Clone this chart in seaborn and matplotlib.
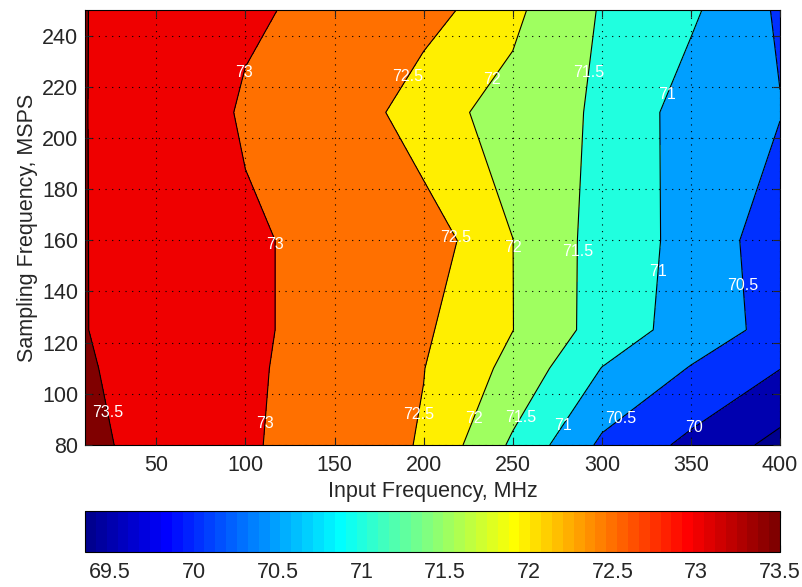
#!/usr/bin/env python3
import matplotlib
matplotlib.use('Agg')
import matplotlib.pyplot as plt
from matplotlib.cm import ScalarMappable
from matplotlib.colors import ListedColormap, Normalize
import numpy as np
import seaborn as sns


# grid of the measurement
INPUT_FREQ = [10, 100, 150, 200, 250, 300, 350, 400]      # MHz
SAMPLING_FREQ = [80, 110, 125, 160, 210, 250]             # MSPS

# SNR per sampling-frequency row, one value per input frequency
SNR_80 = [73.60, 73.05, 72.80, 72.46, 71.42, 70.41, 69.88, 69.35]
SNR_110 = [73.54, 73.07, 72.81, 72.51, 71.86, 70.99, 70.475, 70.01]
SNR_125 = [73.51, 73.08, 72.84, 72.57, 72.006, 71.30, 70.78, 70.33]
SNR_160 = [73.51, 73.05, 72.90, 72.80, 72.003, 71.31, 70.84, 70.22]
SNR_210 = [73.51, 72.96, 72.96, 72.16, 71.85, 71.41, 70.78, 70.52]
SNR_250 = [73.51, 73.05, 72.91, 72.73, 72.10, 71.46, 71.08, 70.43]

LEVELS = [69.5, 70, 70.5, 71, 71.5, 72, 72.5, 73, 73.5]
CLIM = (69.35, 73.5)
CBAR_TICKS = [69.5, 70, 70.5, 71, 71.5, 72, 72.5, 73, 73.5]
CBAR_LABELS = ['69.5', '70', '70.5', '71', '71.5', '72', '72.5', '73', '73.5']
X_TICKS = [50, 100, 150, 200, 250, 300, 350, 400]
Y_TICKS = [80, 100, 120, 140, 160, 180, 200, 220, 240]

# where the inline level labels sit (x MHz, y MSPS)
LABEL_POS = [(99.4, 225.7), (191.8, 223.6), (236.8, 223.6), (292.5, 225.7),
             (336.8, 216.9),
             (116.9, 158.4), (216.2, 160.4), (249.6, 157.1), (286.5, 155.8),
             (331.1, 147.8), (378.4, 142.2),
             (22.2, 92.8), (109.9, 88.5), (194.3, 92.4), (233.1, 88.9),
             (255.0, 90.6), (275.0, 89.3), (311.5, 89.8), (351.2, 87.2)]


def matlab_jet(m=64):
    '''jet colormap the way MATLAB builds it'''
    n = int(np.ceil(m / 4))
    u = np.concatenate([np.arange(1, n + 1) / n, np.ones(n - 1),
                        np.arange(n, 0, -1) / n])
    g = int(np.ceil(n / 2)) - int(m % 4 == 1) + np.arange(1, len(u) + 1)
    rgb = np.zeros((m, 3))
    for ch, idx in enumerate((g + n, g, g - n)):
        keep = (idx >= 1) & (idx <= m)
        rgb[idx[keep] - 1, ch] = u[keep]
    return ListedColormap(rgb)


def plot_contour(out_file):
    sns.set_theme(style='ticks', rc={
        'xtick.direction': 'in', 'ytick.direction': 'in',
        'xtick.top': True, 'ytick.right': True,
        'axes.edgecolor': 'black', 'axes.linewidth': 0.8})
    plt.rcParams['font.family'] = ['Liberation Sans', 'DejaVu Sans']

    cmap = matlab_jet(64)
    norm = Normalize(*CLIM)

    snr = np.array([SNR_80, SNR_110, SNR_125, SNR_160, SNR_210, SNR_250])
    xx, yy = np.meshgrid(INPUT_FREQ, SAMPLING_FREQ)

    # each filled band gets the colour of its lower level (MATLAB style)
    fill_levels = [snr.min() - 0.5] + LEVELS + [snr.max() + 0.5]
    lower = [CLIM[0]] + LEVELS
    fill_colors = [cmap(norm(v)) for v in lower]

    fig = plt.figure(figsize=(8.02, 5.87), dpi=100)
    ax = fig.add_axes([0.106, 0.2419, 0.8666, 0.741])
    cax = fig.add_axes([0.106, 0.0596, 0.8666, 0.0698])

    ax.contourf(xx, yy, snr, levels=fill_levels, colors=fill_colors)
    lines = ax.contour(xx, yy, snr, levels=LEVELS, colors='black',
                       linewidths=0.8)
    ax.set_xlim(10, 400)
    ax.set_ylim(80, 250)
    texts = ax.clabel(lines, manual=LABEL_POS, inline=False, colors='white',
                      fontsize=11.5, fmt=lambda v: f'{v:g}')
    for t in texts:
        t.set_rotation(0)

    ax.set_xticks(X_TICKS)
    ax.set_yticks(Y_TICKS)
    ax.set_axisbelow(False)
    ax.grid(True, linestyle=(0, (1, 5)), color='black', linewidth=0.8)
    ax.tick_params(labelsize=15.5, length=5, width=0.8, pad=5)
    ax.tick_params(axis='x', pad=7)
    ax.set_xlabel('Input Frequency, MHz', fontsize=15.5, labelpad=4)
    ax.set_ylabel('Sampling Frequency, MSPS', fontsize=15.5, labelpad=3)

    cb = fig.colorbar(ScalarMappable(norm=norm, cmap=cmap), cax=cax,
                      orientation='horizontal')
    cb.set_ticks(CBAR_TICKS)
    cb.set_ticklabels(CBAR_LABELS)
    cb.outline.set_linewidth(0.8)
    cax.tick_params(labelsize=15.5, direction='in', length=5, width=0.8,
                    top=True, bottom=True, pad=7)

    fig.savefig(out_file, dpi=100)
    plt.close(fig)


if __name__ == '__main__':
    plot_contour('out.png')
